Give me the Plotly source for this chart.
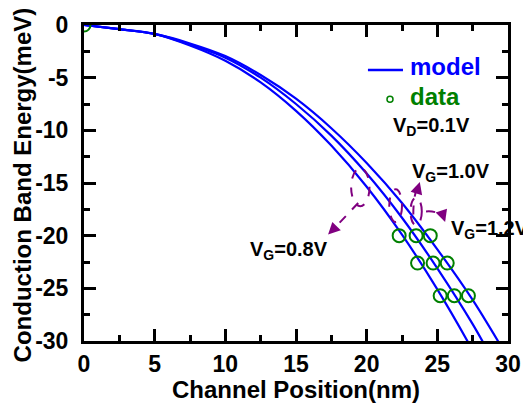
import plotly.graph_objects as go

# ---- data ----
x_model = [0, 2.5, 5, 7.5, 10, 12.5, 15, 17.5, 20, 22.5, 25, 27.5, 30]
vg08 = [0, -0.4, -0.85, -1.95, -3.4, -5.45, -8.15, -11.45, -15.35, -19.9, -25.1, -30.9, -37.2]
vg10 = [0, -0.4, -0.85, -1.85, -3.1, -5.0, -7.5, -10.5, -14.1, -18.3, -23.1, -28.4, -34.4]
vg12 = [0, -0.4, -0.85, -1.75, -2.95, -4.75, -7.0, -9.8, -13.1, -16.9, -21.3, -26.1, -31.6]

data_x = [0, 22.3, 23.5, 24.5, 23.6, 24.7, 25.7, 25.2, 26.2, 27.2]
data_y = [0, -20, -20, -20, -22.6, -22.6, -22.6, -25.7, -25.7, -25.7]

x_ticks = [0, 5, 10, 15, 20, 25, 30]
x_ticktext = ["0", "5", "10", "15", "20", "25", "30"]
y_ticks = [0, -5, -10, -15, -20, -25, -30]
y_ticktext = ["0", "-5", "-10", "-15", "-20", "-25", "-30"]

FONT = "Arial, Liberation Sans, sans-serif"
BLUE = "#0000FF"
GREEN = "#008000"
PURPLE = "#800080"

fig = go.Figure()
for ys in (vg08, vg10, vg12):
    fig.add_trace(go.Scatter(x=x_model, y=ys, mode="lines",
                             line=dict(color=BLUE, width=2.2, shape="spline", smoothing=0.8),
                             showlegend=False, hoverinfo="skip"))
fig.add_trace(go.Scatter(x=data_x, y=data_y, mode="markers",
                         marker=dict(symbol="circle-open", size=13, color=GREEN, line=dict(width=2, color=GREEN)),
                         showlegend=False))

axis_common = dict(showline=True, linecolor="black", linewidth=3, mirror="allticks", ticks="inside",
                   ticklen=12, tickwidth=3, tickcolor="black", showgrid=False, zeroline=False, automargin=False,
                   tickfont=dict(family=FONT, size=23, color="black", weight="bold"),
                   minor=dict(ticks="inside", ticklen=6, tickwidth=3, tickcolor="black", dtick=2.5, showgrid=False))

fig.update_xaxes(range=[0, 30], tickvals=x_ticks, ticktext=x_ticktext, ticklabelstandoff=0, **axis_common)
fig.update_yaxes(range=[-30, 0], tickvals=y_ticks, ticktext=y_ticktext, ticklabelstandoff=8, **axis_common)

# dashed annotation loops and arrows, manual legend symbols
dash_line = dict(color=PURPLE, width=2, dash="dash")
shapes = [
    dict(type="circle", xref="x", yref="y", x0=18.9, x1=20.2, y0=-17.2, y1=-13.6, line=dash_line),
    dict(type="circle", xref="x", yref="y", x0=21.6, x1=22.5, y0=-18.7, y1=-15.6, line=dash_line),
    dict(type="circle", xref="x", yref="y", x0=23.1, x1=23.9, y0=-19.0, y1=-16.4, line=dash_line),
    dict(type="path", xref="x", yref="y", path="M19.4,-16.9 L17.5,-19.6", line=dash_line),
    dict(type="path", xref="x", yref="y", path="M23.3,-18.0 Q23.3,-16.0 23.7,-15.1", line=dash_line),
    dict(type="path", xref="x", yref="y", path="M24.2,-17.7 Q25.2,-17.6 25.5,-18.5", line=dash_line),
    # legend: model line
    dict(type="line", xref="x", yref="y", x0=20.09, x1=22.57, y0=-4.27, y1=-4.27, line=dict(color=BLUE, width=2.5)),
    # legend: data circle
    dict(type="circle", xref="x", yref="y", xsizemode="pixel", ysizemode="pixel", xanchor=21.65, yanchor=-7.04,
         x0=-3, x1=3, y0=-3, y1=3, line=dict(color=GREEN, width=1.5)),
]
fig.update_layout(shapes=shapes)

anns = []
# arrowheads
for (x, y, ax, ay) in [(17.27, -19.9, 8, -8), (23.76, -14.9, -3, 10), (25.55, -18.7, -3, -9)]:
    anns.append(dict(x=x, y=y, ax=ax, ay=ay, xref="x", yref="y", axref="pixel", ayref="pixel",
                     text="", showarrow=True, arrowhead=2, arrowsize=1.2, arrowwidth=2, arrowcolor=PURPLE, standoff=0))

lab = dict(family=FONT, size=20, color="black", weight="bold")
big = dict(family=FONT, size=24, weight="bold")
anns += [
    dict(x=24.6, y=-9.6, text="V<sub>D</sub>=0.1V", showarrow=False, font=lab, xref="x", yref="y"),
    dict(x=26.0, y=-14.0, text="V<sub>G</sub>=1.0V", showarrow=False, font=lab, xref="x", yref="y"),
    dict(x=28.7, y=-19.4, text="V<sub>G</sub>=1.2V", showarrow=False, font=lab, xref="x", yref="y"),
    dict(x=14.5, y=-21.4, text="V<sub>G</sub>=0.8V", showarrow=False, font=lab, xref="x", yref="y"),
    dict(x=22.9, y=-3.9, text="model", showarrow=False, xanchor="left", yanchor="middle",
         font=dict(color=BLUE, **big), xref="x", yref="y"),
    dict(x=22.95, y=-6.75, text="data", showarrow=False, xanchor="left", yanchor="middle",
         font=dict(color=GREEN, **big), xref="x", yref="y"),
    dict(x=0.5, y=-0.153, xref="paper", yref="paper", text="Channel Position(nm)", showarrow=False,
         font=dict(color="black", **big), xanchor="center", yanchor="middle"),
    dict(x=-0.145, y=0.494, xref="paper", yref="paper", text="Conduction Band Energy(meV)", showarrow=False,
         textangle=-90, font=dict(color="black", **big), xanchor="center", yanchor="middle"),
]
fig.update_layout(annotations=anns)

# the page adds an 8px body margin, so the figure is sized/offset to land on the 531x417 window
fig.update_layout(
    width=523, height=401, autosize=False,
    margin=dict(l=76, r=23, t=17, b=68),
    plot_bgcolor="white", paper_bgcolor="white",
    showlegend=False,
)

fig.write_html("out.html")
